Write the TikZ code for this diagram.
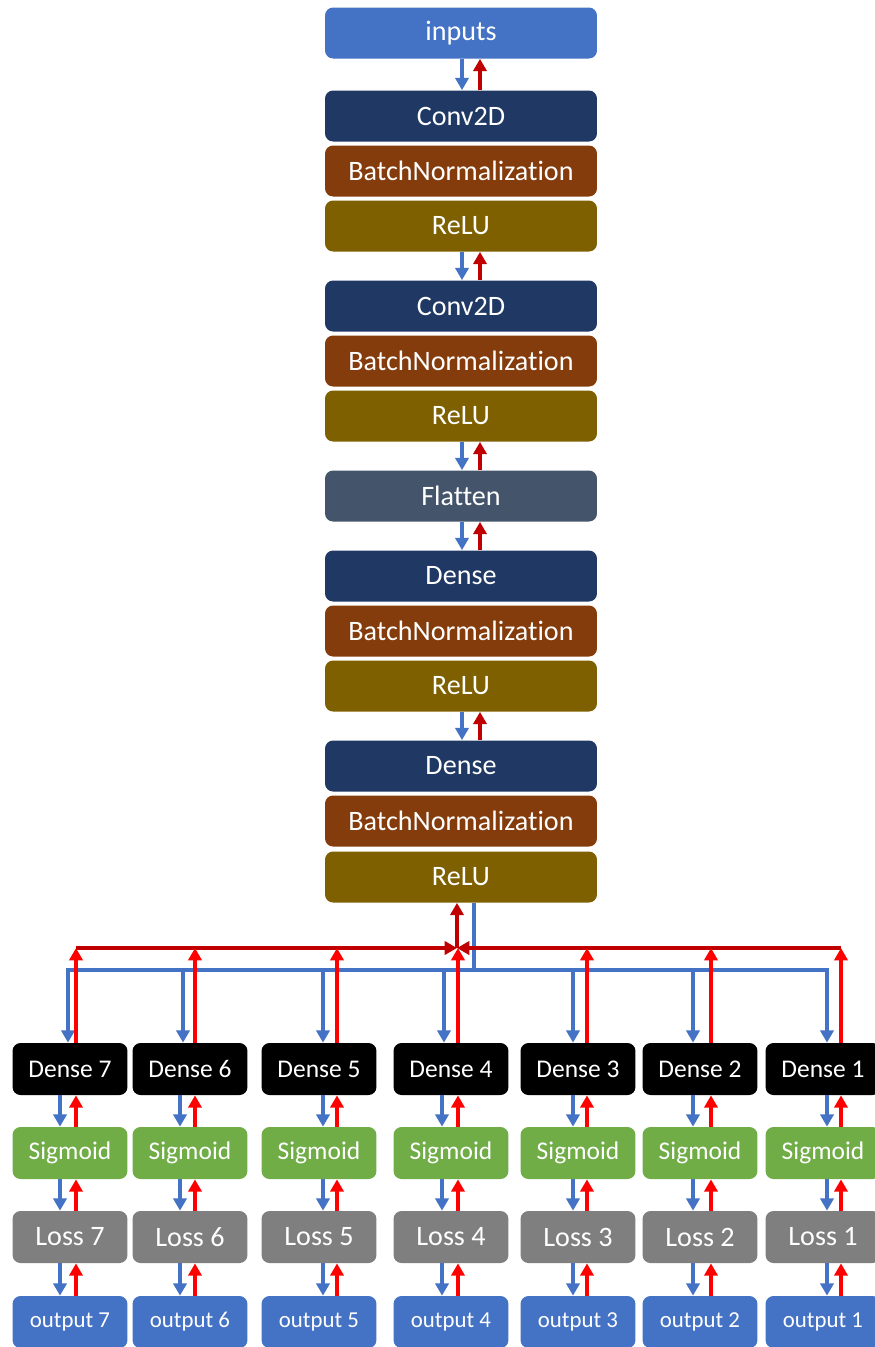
\documentclass[tikz,border=0pt]{standalone}
\usepackage{fontspec}
\setmainfont{Carlito}[RawFeature={-liga;-clig;-dlig;-calt}]
\usetikzlibrary{arrows.meta,calc,positioning}
\definecolor{NetBlue}{HTML}{4472C4}
\definecolor{NetNavy}{HTML}{203864}
\definecolor{NetBrown}{HTML}{843C0C}
\definecolor{NetOlive}{HTML}{7F6000}
\definecolor{NetSlate}{HTML}{44546A}
\definecolor{NetGreen}{HTML}{70AD47}
\definecolor{NetGray}{HTML}{7F7F7F}
\definecolor{NetDark}{HTML}{C00000}
\definecolor{NetRed}{HTML}{FF0000}

\begin{document}
\begin{tikzpicture}[x=0.02cm,y=-0.02cm,>={Triangle[length=7pt,width=7.5pt]}]
  \tikzset{layer/.style={rounded corners=1.6mm,text=white,minimum width=5.44cm,minimum height=1.02cm,inner sep=0pt,font=\fontsize{16}{18}\selectfont},
    head/.style={rounded corners=1.6mm,text=white,minimum width=2.3cm,minimum height=1.04cm,inner sep=0pt,font=\fontsize{14.5}{16}\selectfont},
    fwd/.style={->,NetBlue,line width=2.4pt},
    bwd/.style={->,NetDark,line width=2.4pt},
    grad/.style={->,NetRed,line width=2.4pt},
    bus/.style={NetBlue,line width=2.4pt}}
  \useasboundingbox (0,0) rectangle (875,1347);
  % main stack
  \foreach \n/\t/\c/\y in {in/inputs/NetBlue/33, cA/Conv2D/NetNavy/116, bA/BatchNormalization/NetBrown/171, rA/ReLU/NetOlive/226,
      cB/Conv2D/NetNavy/306, bB/BatchNormalization/NetBrown/361, rB/ReLU/NetOlive/416, fl/Flatten/NetSlate/496,
      dA/Dense/NetNavy/576, bC/BatchNormalization/NetBrown/631, rC/ReLU/NetOlive/686,
      dB/Dense/NetNavy/766, bD/BatchNormalization/NetBrown/821, rD/ReLU/NetOlive/877}
    {\node[layer,fill=\c] (\n) at (461,\y) {\t};}
  \foreach \a/\b in {in/cA,rA/cB,rB/fl,fl/dA,rC/dB}{
    \draw[fwd] ([xshift=0.02cm]\a.south) -- ([xshift=0.02cm]\b.north);
    \draw[bwd] ([xshift=0.38cm]\b.north) -- ([xshift=0.38cm]\a.south);}
  % heads
  \coordinate (J) at (457,948);
  \coordinate (B) at (474,970);
  \draw[bus] (rD.south -| B) -- (B);
  \foreach \i/\cx/\db/\sb/\rx in {7/70/68/60/76, 6/190/183/180/195, 5/319/323/323/337, 4/451/444/442/458,
      3/578/573/573/587, 2/700/693/693/711, 1/823/827/827/841}{
    \node[head,fill=black] (d\i) at (\cx,1069) {Dense \i};
    \node[head,fill=NetGreen] (s\i) at (\cx,1153) {Sigmoid};
    \node[head,fill=NetGray,font=\fontsize{16}{18}\selectfont] (l\i) at (\cx,1237) {Loss \i};
    \node[head,fill=NetBlue,font=\fontsize{13}{15}\selectfont] (o\i) at (\cx,1322) {output \i};
    \coordinate (bt\i) at (\db,970);
    \coordinate (rt\i) at (\rx,948);
    \coordinate (sb\i) at (\sb,0);
    \coordinate (sr\i) at (\rx,0);
    \draw[fwd] (B) -| (d\i.north -| bt\i);
    \foreach \a/\b in {d/s,s/l,l/o}{
      \draw[fwd] (\a\i.south -| sb\i) -- (\b\i.north -| sb\i);
      \draw[grad] (\b\i.north -| sr\i) -- (\a\i.south -| sr\i);}
  }
  \draw[bwd] (rt7) -- (J);
  \draw[bwd] (rt1) -- (J);
  \draw[bwd] (J) -- (rD.south -| J);
  \foreach \i in {7,6,5,4,3,2,1}{\draw[grad] (d\i.north -| rt\i) -- (rt\i);}
\end{tikzpicture}
\end{document}
